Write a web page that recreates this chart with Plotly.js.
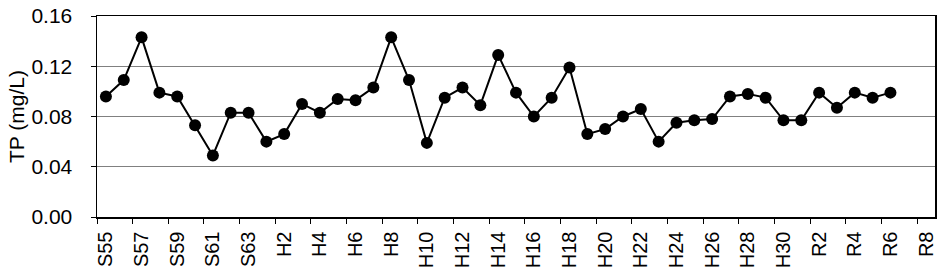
<!DOCTYPE html>
<html>
<head>
<meta charset="utf-8">
<script src="https://cdn.plot.ly/plotly-3.0.1.min.js"></script>
<style>html,body{margin:0;padding:0;background:#fff;}#chart{width:942px;height:274px;}</style>
</head>
<body>
<div id="chart"></div>
<script>
// Sampling sites (categories)
var sitesS = ["S55","S56","S57","S58","S59","S60","S61","S62","S63"];
var sitesH = ["H1","H2","H3","H4","H5","H6","H7","H8","H9","H10","H11","H12","H13","H14","H15",
              "H16","H17","H18","H19","H20","H21","H22","H23","H24","H25","H26","H27","H28","H29","H30"];
var sitesR = ["R1","R2","R3","R4","R5","R6","R7","R8"];

// TP values (mg/L)
var tpS = [0.096,0.109,0.143,0.099,0.096,0.073,0.049,0.083,0.083];
var tpH = [0.060,0.066,0.090,0.083,0.094,0.093,0.103,0.143,0.109,0.059,0.095,0.103,0.089,0.129,0.099,
           0.080,0.095,0.119,0.066,0.070,0.080,0.086,0.060,0.075,0.077,0.078,0.096,0.098,0.095,0.077];
var tpR = [0.077,0.099,0.087,0.099,0.095,0.099,null,null];

var categories = sitesS.concat(sitesH, sitesR);
var values = tpS.concat(tpH, tpR);

// Tick labels: every other site
var tickLabels = categories.filter(function(c, i){ return i % 2 === 0; });
// Tick marks at category boundaries, every other boundary
var boundaryTicks = tickLabels.map(function(c){ return categories.indexOf(c) - 0.5; });

var font = "Arial, 'Liberation Sans', sans-serif";

var trace = {
  x: categories,
  y: values,
  type: "scatter",
  mode: "lines+markers",
  line: {color: "#000", width: 2},
  marker: {color: "#000", size: 12},
  connectgaps: false,
  hoverinfo: "x+y"
};

// helper trace so the boundary-tick axis is drawn (no visible marks)
var tickTrace = {
  x: boundaryTicks,
  y: boundaryTicks.map(function(){ return null; }),
  xaxis: "x2", yaxis: "y",
  type: "scatter", mode: "none",
  hoverinfo: "skip", showlegend: false
};

var layout = {
  width: 942, height: 274,
  margin: {l: 97, r: 7, t: 16, b: 57},
  paper_bgcolor: "#fff", plot_bgcolor: "#fff",
  showlegend: false,
  font: {family: font, size: 20, color: "#000"},
  xaxis: {
    type: "category",
    categoryorder: "array", categoryarray: categories,
    range: [-0.5, categories.length - 0.5],
    tickmode: "array", tickvals: tickLabels, ticktext: tickLabels,
    tickangle: -90,
    ticks: "", showgrid: false, zeroline: false,
    showline: true, linecolor: "#000", linewidth: 1.5, mirror: true,
    ticklabelstandoff: 5,
    tickfont: {family: font, size: 20, color: "#000"}
  },
  xaxis2: {
    overlaying: "x", anchor: "y",
    type: "linear",
    range: [-0.5, categories.length - 0.5],
    tickmode: "array", tickvals: boundaryTicks,
    ticks: "outside", ticklen: 6, tickwidth: 1, tickcolor: "#000",
    showticklabels: false, showgrid: false, zeroline: false, showline: false,
    side: "bottom"
  },
  yaxis: {
    range: [0, 0.16],
    tickmode: "linear", tick0: 0, dtick: 0.04,
    tickformat: ".2f",
    ticks: "outside", ticklen: 5, tickwidth: 1, tickcolor: "#000",
    showgrid: true, gridcolor: "#808080", gridwidth: 1,
    zeroline: false,
    showline: true, linecolor: "#000", linewidth: 1.5, mirror: true,
    ticklabelstandoff: 14,
    tickfont: {family: font, size: 21, color: "#000"},
    title: {text: "TP (mg/L)", font: {family: font, size: 21, color: "#000"}, standoff: 1}
  }
};

Plotly.newPlot("chart", [tickTrace, trace], layout, {displayModeBar: false, staticPlot: true});
</script>
</body>
</html>
